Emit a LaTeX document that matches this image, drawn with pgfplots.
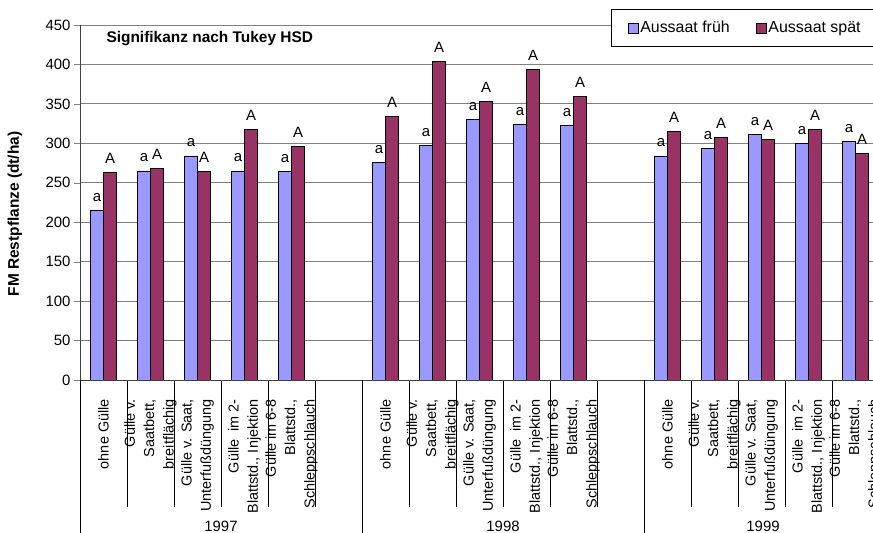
\documentclass[border=0pt]{standalone}
\usepackage{fontspec}
\setmainfont{Liberation Sans}
\usepackage{pgfplots}
\pgfplotsset{compat=1.18}
\usepackage{pgfplotstable}
\definecolor{frueh}{HTML}{9999FF}
\definecolor{spaet}{HTML}{993366}
\definecolor{gridc}{HTML}{808080}

\pgfplotstableread{
x y lab
0.5 215 a
1.5 265 a
2.5 284 a
3.5 265 a
4.5 264 a
6.5 276 a
7.5 297 a
8.5 330 a
9.5 324 a
10.5 323 a
12.5 284 a
13.5 293 a
14.5 311 a
15.5 300 a
16.5 302 a
}\tabfrueh

\pgfplotstableread{
x y lab
0.5 263 A
1.5 268 A
2.5 264 A
3.5 318 A
4.5 296 A
6.5 334 A
7.5 404 A
8.5 353 A
9.5 394 A
10.5 359 A
12.5 315 A
13.5 308 A
14.5 305 A
15.5 318 A
16.5 287 A
}\tabspaet

\begin{document}
\begin{tikzpicture}
\begin{axis}[
  at={(80bp,153bp)}, anchor=south west,
  scale only axis, width=799bp, height=355bp,
  xmin=0, xmax=17, ymin=0, ymax=450,
  ytick={0,50,...,450},
  axis x line*=bottom, axis y line*=left,
  axis line style={black!75, line width=1bp},
  ymajorgrids, grid style={gridc, line width=0.8bp},
  tick align=outside,
  major tick length=6bp,
  /pgf/number format/assume math mode=true,
  yticklabel style={font=\fontsize{15}{17}\selectfont},
  xtick={0.5,1.5,2.5,3.5,4.5,6.5,7.5,8.5,9.5,10.5,12.5,13.5,14.5,15.5,16.5},
  xticklabels={ohne Gülle, {Gülle v.\\Saatbett,\\breitflächig}, {Gülle v. Saat,\\Unterfußdüngung}, {Gülle\ \ im 2-\\Blattstd., Injektion}, {Gülle im 6-8\\Blattstd.,\\Schleppschlauch},
  ohne Gülle, {Gülle v.\\Saatbett,\\breitflächig}, {Gülle v. Saat,\\Unterfußdüngung}, {Gülle\ \ im 2-\\Blattstd., Injektion}, {Gülle im 6-8\\Blattstd.,\\Schleppschlauch},
  ohne Gülle, {Gülle v.\\Saatbett,\\breitflächig}, {Gülle v. Saat,\\Unterfußdüngung}, {Gülle\ \ im 2-\\Blattstd., Injektion}, {Gülle im 6-8\\Blattstd.,\\Schleppschlauch}},
  xticklabel style={rotate=90, anchor=east, align=right, inner sep=0pt, font=\fontsize{14.5}{19.5}\selectfont},
  xticklabel shift=13bp,
  major x tick style={draw=none},
  minor xtick={1,2,3,4,5,7,8,9,10,11,13,14,15,16,17},
  minor tick length=127bp,
  minor x tick style={black, line width=1bp},
  extra x ticks={0,6,12},
  extra x tick labels={},
  extra x tick style={major tick length=153bp, major x tick style={draw=black, line width=1bp}},
  ybar=0pt, bar width=13bp,
  nodes near coords, point meta=explicit symbolic,
  every node near coord/.append style={font=\fontsize{15}{17}\selectfont, anchor=base, yshift=9bp, black},
  legend style={at={(axis description cs:1.0,1.04507)}, anchor=north east, draw=black, line width=0.8bp,
    font=\fontsize{16}{18}\selectfont, legend columns=2, inner xsep=16bp, inner ysep=10bp,
    /tikz/every even column/.append style={column sep=24bp}},
  legend image code/.code={\draw[#1, line width=0.7bp] (-2bp,-5bp) rectangle (8bp,5bp);},
]
\addplot[fill=frueh, draw=black, line width=0.75bp] table[x=x, y=y, meta=lab] {\tabfrueh};
\addplot[fill=spaet, draw=black, line width=0.75bp] table[x=x, y=y, meta=lab] {\tabspaet};
\legend{Aussaat früh, Aussaat spät}
\end{axis}
\node[anchor=base west, font=\bfseries\fontsize{15.5}{17}\selectfont] at (103bp,490bp) {Signifikanz nach Tukey HSD};
\node[rotate=90, font=\bfseries\fontsize{15.5}{17}\selectfont] at (15bp,319bp) {FM Restpflanze (dt/ha)};
\node[font=\fontsize{15}{17}\selectfont] at (221bp,6.5bp) {1997};
\node[font=\fontsize{15}{17}\selectfont] at (503bp,6.5bp) {1998};
\node[font=\fontsize{15}{17}\selectfont] at (763bp,6.5bp) {1999};
\pgfresetboundingbox
\useasboundingbox (0,0) rectangle (873bp,533bp);
\end{tikzpicture}
\end{document}
